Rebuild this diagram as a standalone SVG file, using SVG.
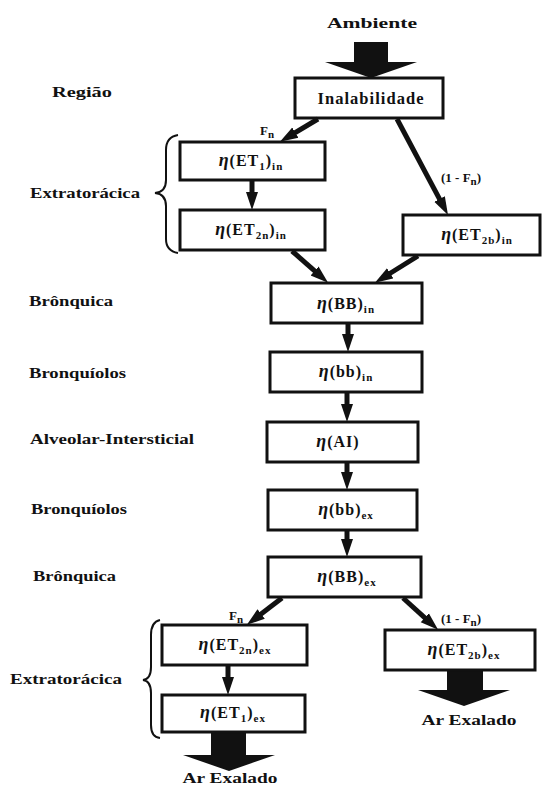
<svg xmlns="http://www.w3.org/2000/svg" width="543" height="785" viewBox="0 0 543 785" font-family="'Liberation Serif', 'DejaVu Serif', serif">
<style>
text{font-family:"Liberation Serif","DejaVu Serif",serif;font-weight:bold;fill:#111}
.lbl{font-size:15px}
.nd{font-size:16px;text-anchor:middle;letter-spacing:1px}
.sub{font-size:11px}
.sm{font-size:13px}
.box{fill:#fff;stroke:#111;stroke-width:3}
.con{fill:none;stroke:#111;stroke-width:5}
.big{fill:#111}
.brace{fill:none;stroke:#111;stroke-width:2}
.eta{font-style:italic;font-size:18px}
</style>
<defs>
<marker id="ah" markerWidth="20" markerHeight="14" viewBox="0 -7 20 14" refX="8" refY="0" orient="auto" markerUnits="userSpaceOnUse">
<path d="M0,-6 L18,0 L0,6 Z" fill="#111"/>
</marker>
</defs>
<rect width="543" height="785" fill="#fff"/>

<g id="labels">
<text class="lbl" x="372" y="28" text-anchor="middle" textLength="90" lengthAdjust="spacingAndGlyphs">Ambiente</text>
<text class="lbl" x="52" y="97" textLength="60" lengthAdjust="spacingAndGlyphs">Região</text>
<text class="lbl" x="30" y="198" textLength="110" lengthAdjust="spacingAndGlyphs">Extratorácica</text>
<text class="lbl" x="29" y="306" textLength="84" lengthAdjust="spacingAndGlyphs">Brônquica</text>
<text class="lbl" x="29" y="378" textLength="97" lengthAdjust="spacingAndGlyphs">Bronquíolos</text>
<text class="lbl" x="30" y="444" textLength="164" lengthAdjust="spacingAndGlyphs">Alveolar-Intersticial</text>
<text class="lbl" x="31" y="514" textLength="96" lengthAdjust="spacingAndGlyphs">Bronquíolos</text>
<text class="lbl" x="33" y="581" textLength="83" lengthAdjust="spacingAndGlyphs">Brônquica</text>
<text class="lbl" x="10" y="684" textLength="112" lengthAdjust="spacingAndGlyphs">Extratorácica</text>
<text class="lbl" x="469" y="725" text-anchor="middle" textLength="95" lengthAdjust="spacingAndGlyphs">Ar Exalado</text>
<text class="lbl" x="230" y="783" text-anchor="middle" textLength="95" lengthAdjust="spacingAndGlyphs">Ar Exalado</text>
<text class="sm" x="260" y="135">F<tspan class="sub" dy="3">n</tspan></text>
<text class="sm" x="441" y="182">(1 - F<tspan class="sub" dy="3">n</tspan><tspan dy="-3">)</tspan></text>
<text class="sm" x="229" y="620">F<tspan class="sub" dy="3">n</tspan></text>
<text class="sm" x="441" y="623">(1 - F<tspan class="sub" dy="3">n</tspan><tspan dy="-3">)</tspan></text>
</g>

<g id="braces">
<path class="brace" d="M178,135 Q166,137 166,150 L166,180 Q166,192 155,193 Q166,194 166,206 L166,239 Q166,251 178,253"/>
<path class="brace" d="M160,620 Q151,622 151,635 L151,667 Q151,679 143,680 Q151,681 151,693 L151,725 Q151,737 160,738"/>
</g>

<g id="big-arrows">
<polygon class="big" points="354,42 388,42 388,62 417,62 371,78 325,62 354,62"/>
<polygon class="big" points="211,732 246,732 246,755 275,755 229,771 183,755 211,755"/>
<polygon class="big" points="447,670 483,670 483,690 510,690 464,706 418,690 447,690"/>
</g>

<g id="n-inal"><rect class="box" x="295" y="78" width="148" height="40"/><text class="nd" x="371" y="104" textLength="107" lengthAdjust="spacingAndGlyphs">Inalabilidade</text></g>
<g id="n-et1in"><rect class="box" x="180" y="142" width="145" height="38"/><text class="nd" x="251" y="166"><tspan class="eta">η</tspan>(ET<tspan class="sub" dy="4">1</tspan><tspan dy="-4">)</tspan><tspan class="sub" dy="4">in</tspan></text></g>
<g id="n-et2nin"><rect class="box" x="180" y="210" width="145" height="40"/><text class="nd" x="251" y="235"><tspan class="eta">η</tspan>(ET<tspan class="sub" dy="4">2n</tspan><tspan dy="-4">)</tspan><tspan class="sub" dy="4">in</tspan></text></g>
<g id="n-et2bin"><rect class="box" x="403" y="215" width="137" height="40"/><text class="nd" x="477" y="240"><tspan class="eta">η</tspan>(ET<tspan class="sub" dy="4">2b</tspan><tspan dy="-4">)</tspan><tspan class="sub" dy="4">in</tspan></text></g>
<g id="n-BBin"><rect class="box" x="271" y="283" width="151" height="40"/><text class="nd" x="346" y="309"><tspan class="eta">η</tspan>(BB)<tspan class="sub" dy="4">in</tspan></text></g>
<g id="n-bbin"><rect class="box" x="270" y="352" width="152" height="40"/><text class="nd" x="346" y="377"><tspan class="eta">η</tspan>(bb)<tspan class="sub" dy="4">in</tspan></text></g>
<g id="n-ai"><rect class="box" x="267" y="422" width="151" height="40"/><text class="nd" x="338" y="447"><tspan class="eta">η</tspan>(AI)</text></g>
<g id="n-bbex"><rect class="box" x="268" y="490" width="149" height="40"/><text class="nd" x="346" y="515"><tspan class="eta">η</tspan>(bb)<tspan class="sub" dy="4">ex</tspan></text></g>
<g id="n-BBex"><rect class="box" x="268" y="557" width="153" height="40"/><text class="nd" x="347" y="582"><tspan class="eta">η</tspan>(BB)<tspan class="sub" dy="4">ex</tspan></text></g>
<g id="n-et2nex"><rect class="box" x="162" y="625" width="145" height="40"/><text class="nd" x="235" y="650"><tspan class="eta">η</tspan>(ET<tspan class="sub" dy="4">2n</tspan><tspan dy="-4">)</tspan><tspan class="sub" dy="4">ex</tspan></text></g>
<g id="n-et1ex"><rect class="box" x="162" y="695" width="143" height="37"/><text class="nd" x="233" y="718"><tspan class="eta">η</tspan>(ET<tspan class="sub" dy="4">1</tspan><tspan dy="-4">)</tspan><tspan class="sub" dy="4">ex</tspan></text></g>
<g id="n-et2bex"><rect class="box" x="385" y="630" width="150" height="40"/><text class="nd" x="464" y="655"><tspan class="eta">η</tspan>(ET<tspan class="sub" dy="4">2b</tspan><tspan dy="-4">)</tspan><tspan class="sub" dy="4">ex</tspan></text></g>

<g id="connectors">
<path class="con" d="M318,119 L288.5,136.7" marker-end="url(#ah)"/>
<path class="con" d="M397,119 L443.3,206.1" marker-end="url(#ah)"/>
<path class="con" d="M252,181 L252,200" marker-end="url(#ah)"/>
<path class="con" d="M292,251 L320.6,276.2" marker-end="url(#ah)"/>
<path class="con" d="M418,256 L383.4,277.5" marker-end="url(#ah)"/>
<path class="con" d="M348,324 L348,342" marker-end="url(#ah)"/>
<path class="con" d="M347,393 L347,412" marker-end="url(#ah)"/>
<path class="con" d="M347,463 L347,480" marker-end="url(#ah)"/>
<path class="con" d="M347,531 L347,547" marker-end="url(#ah)"/>
<path class="con" d="M282,598 L254.8,618.8" marker-end="url(#ah)"/>
<path class="con" d="M403,598 L430.7,623.1" marker-end="url(#ah)"/>
<path class="con" d="M228,666 L228,685" marker-end="url(#ah)"/>
</g>
</svg>
